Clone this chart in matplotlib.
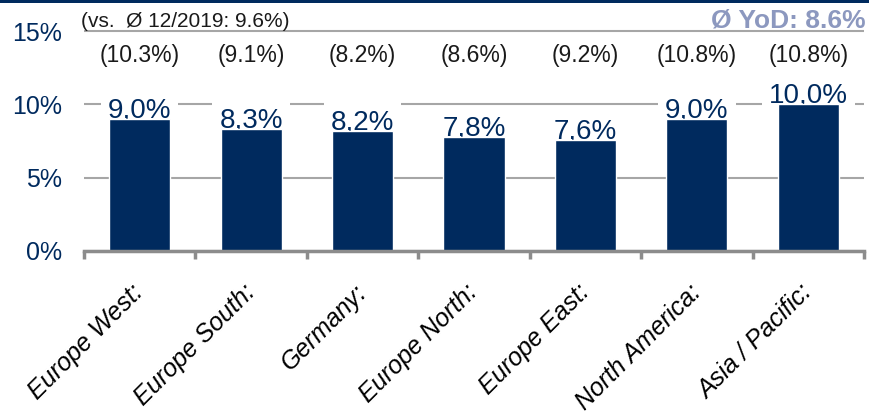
import matplotlib
matplotlib.use('Agg')
import matplotlib.pyplot as plt
from matplotlib.patches import Rectangle
import numpy as np

plt.rcParams['font.family'] = ['Liberation Sans', 'DejaVu Sans']

# data
regions = ['Europe West:', 'Europe South:', 'Germany:', 'Europe North:',
           'Europe East:', 'North America:', 'Asia / Pacific:']
values = [9.0, 8.3, 8.2, 7.8, 7.6, 9.0, 10.0]
value_labels = ['9,0%', '8,3%', '8,2%', '7,8%', '7,6%', '9,0%', '10,0%']
prev_labels = ['(10.3%)', '(9.1%)', '(8.2%)', '(8.6%)', '(9.2%)', '(10.8%)', '(10.8%)']
yticks = [0, 5, 10, 15]
note_left = '(vs.  Ø 12/2019: 9.6%)'
note_right = 'Ø YoD: 8.6%'

navy = '#002a5e'
grey = '#a6a6a6'

fig = plt.figure(figsize=(8.69, 4.11), dpi=100)
ax = fig.add_axes([84 / 869, 160 / 411, 780 / 869, 242 / 411])

x = np.arange(len(regions))
ax.bar(x, values, width=0.55, color=navy, edgecolor='white', linewidth=1, zorder=1)

ax.set_xlim(-0.5, len(regions) - 0.5)
ax.set_ylim(0, 16.5)
ax.set_yticks(yticks)
ax.set_yticklabels([f'{t}%' for t in yticks], fontsize=18, color=navy)
ax.tick_params(axis='y', length=0, pad=16)

ax.grid(axis='y', color=grey, linewidth=1.5)
ax.set_axisbelow(True)

for s in ['top', 'right', 'left']:
    ax.spines[s].set_visible(False)
ax.spines['bottom'].set_color('#8c8c8c')
ax.spines['bottom'].set_linewidth(2.5)

# tick marks at category boundaries, labels at centres
ax.set_xticks(x)
ax.set_xticklabels(regions, rotation=45, ha='right', va='center', rotation_mode='anchor',
                   fontsize=18, style='italic', color='black')
ax.tick_params(axis='x', which='major', length=0, pad=27)
ax.set_xticks(np.arange(len(regions) + 1) - 0.5, minor=True)
ax.tick_params(axis='x', which='minor', length=6, width=2.5, color='#8c8c8c', direction='out')

for xi, v, lab, prev in zip(x, values, value_labels, prev_labels):
    ax.text(xi, v + 0.1, lab, ha='center', va='baseline', fontsize=20, color=navy,
            zorder=0.8, bbox=dict(boxstyle='square,pad=0.25', fc='white', ec='none'))
    ax.text(xi, 13.36, prev, ha='center', va='center', fontsize=16.5, color='#1a1a1a')

ax.text(-0.53, 15.68, note_left, ha='left', va='center', fontsize=15, color='#1a1a1a')
fig.text(866 / 869, 1 - 21 / 411, note_right, ha='right', va='center', fontsize=19,
         fontweight='bold', color='#8c98bf')

# navy rule across the top
fig.add_artist(Rectangle((0, 1 - 3 / 411), 1, 3 / 411, transform=fig.transFigure,
                         color=navy, lw=0))

plt.savefig('out.png', dpi=100)
